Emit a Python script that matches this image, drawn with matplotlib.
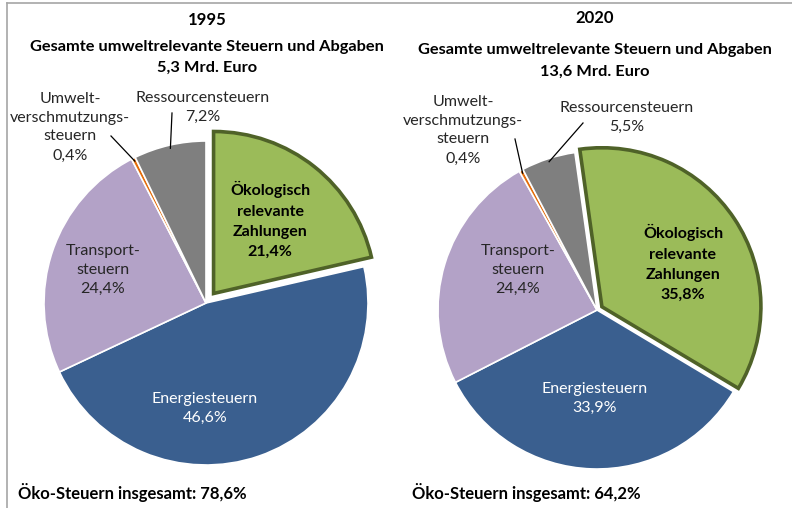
import numpy as np
import matplotlib
matplotlib.use("Agg")
import matplotlib.pyplot as plt
from matplotlib.lines import Line2D

# ---------------- data ----------------
categories = ["Ökologisch\nrelevante\nZahlungen", "Energiesteuern", "Transport-\nsteuern",
              "Umwelt-\nverschmutzungs-\nsteuern", "Ressourcensteuern"]
years = ["1995", "2020"]
share_1995 = [21.4, 46.6, 24.4, 0.4, 7.2]
share_2020 = [35.8, 33.9, 24.4, 0.4, 5.5]
totals = ["5,3", "13,6"]
eco_total = ["78,6", "64,2"]

colors = ["#9BBB59", "#3A5F8F", "#B3A2C7", "#E46C0A", "#7F7F7F"]
green_edge = "#4F6228"

FONT = ["Lato", "DejaVu Sans"]
W, H = 792, 508

fig = plt.figure(figsize=(W / 100, H / 100), dpi=100)
ax = fig.add_axes([0, 0, 1, 1])


def fmt(v):
    return f"{v:.1f}".replace(".", ",") + "%"


def Y(y):
    return H - y


panels = [
    dict(vals=share_1995, center=(206, 303), R=162, start=90, explode=0.075,
         title_x=207, title_y=(20, 47, 68), foot=(18, 492),
         lab=[(270, 220), (205, 408), (103, 270), (70, 127), (203, 107)],
         leaders={3: (111, 136), 4: (172, 113)}),
    dict(vals=share_2020, center=(597, 310), R=159, start=98, explode=0.037,
         title_x=595, title_y=(18, 50, 72), foot=(412, 492),
         lab=[(683, 263), (595, 398), (518, 270), (463, 130), (627, 117)],
         leaders={3: (515, 139), 4: (583, 123)}),
]

for i, p in enumerate(panels):
    cx, cy = p["center"]
    R = p["R"]
    # matplotlib's explode is in data units -> scale by radius
    explode = [p["explode"] * R, 0, 0, 0, 0]
    wedges, _ = ax.pie(p["vals"], colors=colors, startangle=p["start"], counterclock=False,
                       explode=explode, center=(cx, Y(cy)), radius=R,
                       wedgeprops=dict(edgecolor="white", linewidth=1.2))
    wedges[0].set_edgecolor(green_edge)
    wedges[0].set_linewidth(2.6)
    wedges[0].set_zorder(5)

    # labels
    for k, (lx, ly) in enumerate(p["lab"]):
        txt = categories[k] + "\n" + fmt(p["vals"][k])
        kw = dict(ha="center", va="center", multialignment="center", family=FONT,
                  fontsize=11.5, linespacing=1.45, zorder=10)
        if k == 0:
            kw.update(fontweight="bold", color="black", linespacing=1.55)
        elif k == 1:
            kw.update(color="white")
        else:
            kw.update(color="#262626")
        ax.text(lx, Y(ly), txt, **kw)

    # leader lines to small wedges
    for k, (sx, sy) in p["leaders"].items():
        w = wedges[k]
        mid = np.deg2rad((w.theta1 + w.theta2) / 2)
        ex = cx + 0.98 * R * np.cos(mid)
        ey = Y(cy) + 0.98 * R * np.sin(mid)
        ax.add_line(Line2D([sx, ex], [Y(sy), ey], color="black", lw=0.9, zorder=11))

    # titles
    ty = p["title_y"]
    ax.text(p["title_x"], Y(ty[0]), years[i], ha="center", va="center", family=FONT,
            fontweight="bold", fontsize=12)
    ax.text(p["title_x"], Y(ty[1]), "Gesamte umweltrelevante Steuern und Abgaben",
            ha="center", va="center", family=FONT, fontweight="bold", fontsize=11.8)
    ax.text(p["title_x"], Y(ty[2]), f"{totals[i]} Mrd. Euro", ha="center", va="center",
            family=FONT, fontweight="bold", fontsize=11.8)
    fx, fy = p["foot"]
    ax.text(fx, Y(fy), f"Öko-Steuern insgesamt: {eco_total[i]}%", ha="left", va="center",
            family=FONT, fontweight="bold", fontsize=12)

# frame lines
ax.add_line(Line2D([7, W], [Y(3), Y(3)], color="#A6A6A6", lw=1.2))
ax.add_line(Line2D([7, 7], [Y(3), 0], color="#A6A6A6", lw=1.2))

ax.set_xlim(0, W)
ax.set_ylim(0, H)
ax.set_aspect("equal")
ax.axis("off")

fig.savefig("out.png", dpi=100, facecolor="white")
